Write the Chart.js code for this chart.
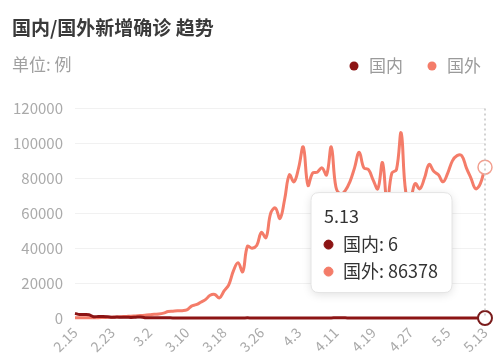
<!DOCTYPE html>
<html>
<head>
<meta charset="utf-8">
<script src="https://cdn.jsdelivr.net/npm/chart.js@4"></script>
<style>
html,body{margin:0;padding:0;background:#fff;}
#wrap{position:relative;width:500px;height:362px;font-family:"Noto Sans CJK SC","Noto Sans",sans-serif;overflow:hidden;}
#title{position:absolute;left:12px;top:15px;font-size:19px;font-weight:bold;color:#3a3a3a;line-height:23px;white-space:nowrap;}
#unit{position:absolute;left:12px;top:53px;font-size:17px;color:#a0a0a0;line-height:21px;white-space:nowrap;}
canvas{position:absolute;left:0;top:0;}
</style>
</head>
<body>
<div id="wrap">
  <canvas id="c" width="500" height="362"></canvas>
  <div id="title">国内/国外新增确诊 趋势</div>
  <div id="unit">单位: 例</div>
</div>
<script>
// ---- data ----
const categories = [
  '2.15','2.16','2.17','2.18','2.19','2.20','2.21','2.22','2.23','2.24','2.25','2.26','2.27','2.28','2.29',
  '3.1','3.2','3.3','3.4','3.5','3.6','3.7','3.8','3.9','3.10','3.11','3.12','3.13','3.14','3.15','3.16',
  '3.17','3.18','3.19','3.20','3.21','3.22','3.23','3.24','3.25','3.26','3.27','3.28','3.29','3.30','3.31',
  '4.1','4.2','4.3','4.4','4.5','4.6','4.7','4.8','4.9','4.10','4.11','4.12','4.13','4.14','4.15',
  '4.16','4.17','4.18','4.19','4.20','4.21','4.22','4.23','4.24','4.25','4.26','4.27','4.28','4.29','4.30',
  '5.1','5.2','5.3','5.4','5.5','5.6','5.7','5.8','5.9','5.10','5.11','5.12','5.13'
];
const domestic = [
  2641,2009,2048,1886,749,891,823,648,409,508,406,433,327,427,573,
  202,125,119,139,143,99,44,40,19,24,15,8,11,20,16,21,13,34,39,41,46,39,78,47,67,55,54,45,31,48,36,
  35,31,19,30,39,32,62,63,42,46,99,108,89,46,46,26,27,16,12,11,30,10,6,11,12,3,6,22,4,12,
  2,1,2,3,1,2,4,1,14,17,1,7,6
];
const foreign = [
  100,130,120,150,160,200,300,400,500,600,750,900,1000,1200,1400,
  1600,1800,2100,2300,2800,3700,3900,4100,4200,4600,6800,7600,9000,10500,13000,13500,
  11500,15500,19000,27000,31600,26500,41000,40000,41500,49000,46000,60000,63000,57000,68000,
  82000,78000,86000,98000,76000,83000,83500,86000,82000,98000,75000,71000,73000,78000,86000,
  95000,86000,85000,79000,74000,89000,66000,83000,85000,106000,72000,69000,77000,74000,80000,
  88000,84000,82000,78000,83000,90000,93000,93000,86000,80000,74000,77000,86378
];
const tickLabels = ['2.15','2.23','3.2','3.10','3.18','3.26','4.3','4.11','4.19','4.27','5.5','5.13'];
const seriesNames = ['国内','国外'];
const yMax = 120000, yStep = 20000;
const activeIndex = categories.indexOf('5.13');

const colDom = '#8c1414';
const colFor = '#f47c69';
const FONT = '"Noto Sans CJK SC","Noto Sans",sans-serif';

function dot(color){
  const c = document.createElement('canvas');
  c.width = 10; c.height = 10;
  const x = c.getContext('2d');
  x.fillStyle = color; x.beginPath(); x.arc(5,5,4.5,0,Math.PI*2); x.fill();
  return c;
}
const legendDots = [dot(colDom), dot(colFor)];

Chart.Tooltip.positioners.leftSide = function(items){
  if (!items.length) return false;
  const p = Chart.Tooltip.positioners.average.call(this, items);
  return {x: p.x - 33, y: p.y, xAlign: 'right', yAlign: 'center'};
};

const legendShift = {
  id: 'legendShift',
  afterLayout(chart){
    const l = chart.legend; if (!l) return;
    l.left += 18.5; l.right += 18.5; l.top -= 24; l.bottom -= 24;
  }
};
const tipShadow = {
  id: 'tipShadow',
  beforeTooltipDraw(chart, args){
    const t = args.tooltip; if (!t || !t.opacity) return;
    const ctx = chart.ctx;
    ctx.save();
    ctx.shadowColor = 'rgba(0,0,0,0.13)'; ctx.shadowBlur = 10; ctx.shadowOffsetY = 2;
    ctx.fillStyle = '#fff';
    ctx.beginPath(); ctx.roundRect(t.x, t.y, t.width, t.height, 8); ctx.fill();
    ctx.restore();
  }
};
const hoverLine = {
  id: 'hoverLine',
  afterDatasetsDraw(chart){
    const act = chart.getActiveElements(); if (!act.length) return;
    const x = act[0].element.x, ca = chart.chartArea, ctx = chart.ctx;
    ctx.save();
    ctx.strokeStyle = '#c4c4c4'; ctx.lineWidth = 1.5; ctx.setLineDash([2,3]);
    ctx.beginPath(); ctx.moveTo(x, ca.top); ctx.lineTo(x, ca.bottom); ctx.stroke();
    ctx.restore();
  }
};

const chart = new Chart(document.getElementById('c'), {
  type: 'line',
  data: {
    labels: categories,
    datasets: [
      {label: seriesNames[0], data: domestic, borderColor: colDom, backgroundColor: colDom,
       borderWidth: 3, pointRadius: 0, pointHoverRadius: 7, pointHoverBorderWidth: 2,
       pointHoverBackgroundColor: '#fff', pointHoverBorderColor: '#7a1c1c', tension: 0.4, clip: 12},
      {label: seriesNames[1], data: foreign, borderColor: colFor, backgroundColor: colFor,
       borderWidth: 3, pointRadius: 0, pointHoverRadius: 7, pointHoverBorderWidth: 1.5,
       pointHoverBackgroundColor: '#fff', pointHoverBorderColor: '#f2a090', tension: 0.4, clip: 12}
    ]
  },
  options: {
    responsive: false,
    animation: false,
    events: [],
    layout: {padding: {top: 59, left: 12, right: 15, bottom: 0}},
    interaction: {mode: 'index', intersect: false},
    scales: {
      x: {
        grid: {display: false, drawTicks: false},
        border: {display: false},
        ticks: {
          autoSkip: false, minRotation: 45, maxRotation: 45, padding: 6,
          color: '#aaaaaa', font: {family: FONT, size: 14},
          callback: (v, i) => tickLabels.includes(categories[i]) ? categories[i] : null
        },
        afterFit(s){ s.height = 44; s.paddingRight = 0; }
      },
      y: {
        min: 0, max: yMax,
        grid: {color: '#f1f1f1', drawTicks: false, lineWidth: 1},
        border: {display: false},
        ticks: {stepSize: yStep, padding: 12, color: '#aaaaaa', font: {family: FONT, size: 15},
                callback: v => String(v)},
        afterFit(s){ s.width = 63; }
      }
    },
    plugins: {
      title: {display: false},
      legend: {
        display: true, position: 'top', align: 'end',
        labels: {
          usePointStyle: true, boxWidth: 13, padding: 22.5, color: '#9a9a9a',
          font: {family: FONT, size: 17},
          generateLabels(chart){
            const items = Chart.defaults.plugins.legend.labels.generateLabels(chart);
            return items.map((it, i) => Object.assign(it, {pointStyle: legendDots[i], lineWidth: 0}));
          }
        }
      },
      tooltip: {
        enabled: true,
        position: 'leftSide',
        backgroundColor: '#ffffff',
        borderColor: '#e4e4e4', borderWidth: 1, cornerRadius: 8,
        caretSize: 0, caretPadding: 0,
        padding: {top: 13.2, bottom: 10.2, left: 13, right: 14},
        titleColor: '#333333', bodyColor: '#333333',
        titleFont: {family: FONT, size: 18, weight: 'normal'},
        bodyFont: {family: FONT, size: 18},
        titleMarginBottom: 6.4, bodySpacing: 5.4,
        usePointStyle: true, boxWidth: 9, boxHeight: 9, boxPadding: 8,
        callbacks: {
          title: items => items.length ? categories[items[0].dataIndex] : '',
          label: item => item.dataset.label + ': ' + item.raw,
          labelColor: item => {
            const c = item.datasetIndex === 0 ? colDom : colFor;
            return {borderColor: c, backgroundColor: c, borderWidth: 0};
          }
        }
      }
    }
  },
  plugins: [legendShift, tipShadow, hoverLine]
});

const act = [{datasetIndex: 0, index: activeIndex}, {datasetIndex: 1, index: activeIndex}];
chart.setActiveElements(act);
chart.tooltip.setActiveElements(act, {x: 485, y: 243});
chart.update();
</script>
</body>
</html>
